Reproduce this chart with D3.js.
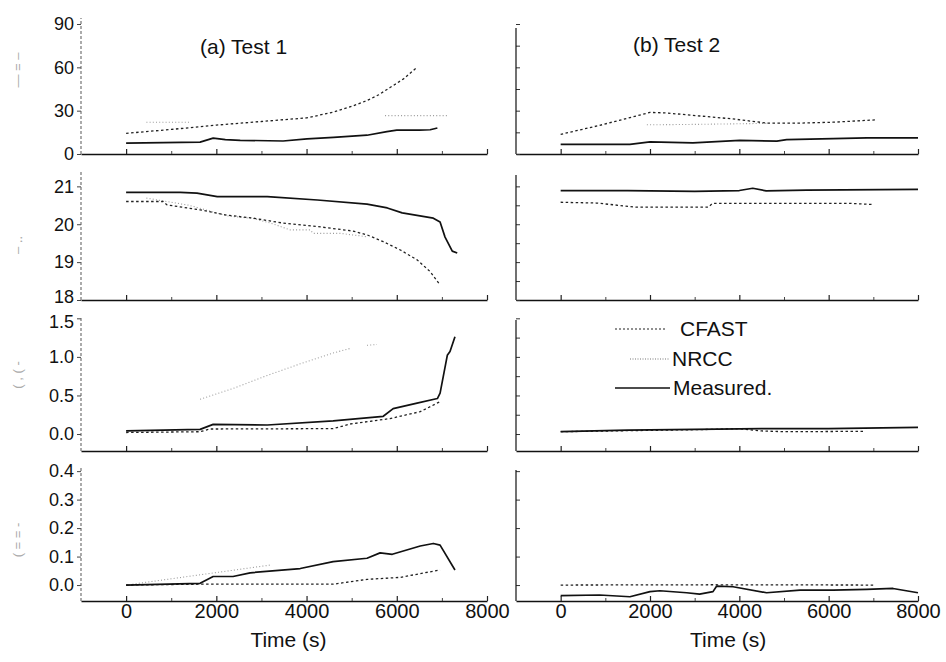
<!DOCTYPE html>
<html><head><meta charset="utf-8">
<script src="https://cdn.jsdelivr.net/npm/d3@7"></script>
<style>
body{margin:0;background:#fff;}
svg{display:block;font-family:"Liberation Sans",Arial,sans-serif;}
</style></head>
<body><svg id="chart" width="946" height="662"></svg>
<script>
// ---------- DATA (time s, value) ----------
const xTickValues = [0, 2000, 4000, 6000, 8000];
const panelTitles = ["(a) Test 1", "(b) Test 2"];
const legendLabels = ["CFAST", "NRCC", "Measured."];
const xAxisTitle = "Time (s)";

const p1Ticks = [0, 30, 60, 90];
const p2Ticks = [18, 19, 20, 21];
const p3Ticks = [0.0, 0.5, 1.0, 1.5];
const p4Ticks = [0.0, 0.1, 0.2, 0.3, 0.4];

// Test 1, panel 1
const t1p1Measured = [[0,7.5],[1640,8.2],[1930,11],[2200,10],[2530,9.5],[3480,9],[4010,10.5],[4600,11.5],[5340,13],[5780,15.5],[6000,16.5],[6500,16.5],[6740,16.8],[6900,18]];
const t1p1Cfast = [[0,14.3],[1000,17],[2000,20],[3000,22.5],[4000,25],[4600,29],[5000,33],[5340,37],[5600,41],[5850,46],[6150,52],[6450,60]];
const t1p1NrccA = [[450,22],[1420,22]];
const t1p1NrccB = [[5740,26.6],[7140,26.6]];
// Test 1, panel 2
const t1p2Measured = [[0,20.84],[1200,20.84],[1570,20.82],[2020,20.73],[3130,20.73],[4240,20.64],[5340,20.53],[5790,20.43],[6120,20.3],[6810,20.16],[6960,20.06],[7070,19.66],[7230,19.29],[7340,19.24]];
const t1p2Cfast = [[0,20.6],[820,20.6],[910,20.51],[1640,20.38],[2240,20.24],[2820,20.16],[3480,20.03],[4240,19.94],[5030,19.82],[5340,19.72],[5700,19.54],[6080,19.32],[6450,19.06],[6740,18.75],[6960,18.4]];
const t1p2Nrcc = [[450,20.69],[900,20.6],[1400,20.5],[2240,20.22],[2820,20.15],[3200,20.03],[3640,19.85],[4080,19.85],[4150,19.76],[4740,19.76],[5340,19.67]];
// Test 1, panel 3
const t1p3Measured = [[0,0.04],[1640,0.06],[1930,0.125],[3130,0.117],[4590,0.17],[5700,0.23],[5920,0.33],[6450,0.4],[6900,0.46],[6960,0.53],[7120,1.02],[7180,1.07],[7290,1.26]];
const t1p3Cfast = [[0,0.02],[1640,0.03],[1860,0.065],[4590,0.07],[4970,0.13],[5850,0.2],[6520,0.29],[6960,0.42]];
const t1p3NrccA = [[1640,0.45],[2370,0.59],[3130,0.76],[3860,0.91],[4590,1.05],[4970,1.11]];
const t1p3NrccB = [[5340,1.15],[5560,1.16]];
// Test 1, panel 4
const t1p4Measured = [[0,0.0],[1640,0.006],[1930,0.03],[2370,0.03],[2750,0.043],[3860,0.058],[4590,0.082],[5340,0.094],[5630,0.113],[5900,0.108],[6520,0.137],[6810,0.146],[6960,0.14],[7290,0.053]];
const t1p4Cfast = [[0,0.0],[1640,0.003],[4590,0.003],[5340,0.02],[6080,0.027],[6960,0.053]];
const t1p4Nrcc = [[0,0.0],[3190,0.07]];

// Test 2, panel 1
const t2p1Measured = [[0,6.6],[1550,6.6],[2000,8.4],[2960,7.7],[4010,9.5],[4840,8.9],[5060,10],[6100,10.7],[6860,11.1],[8000,11.1]];
const t2p1Cfast = [[0,13.6],[870,19.8],[2000,28.8],[2370,28.4],[3850,24.3],[4620,21.4],[5360,21.4],[6100,22],[7040,23.6]];
const t2p1Nrcc = [[1930,20.2],[3000,20.5],[4620,21.2]];
// Test 2, panel 2
const t2p2Measured = [[0,20.89],[1500,20.89],[3000,20.87],[4000,20.89],[4300,20.95],[4600,20.88],[5500,20.9],[8000,20.92]];
const t2p2Cfast = [[0,20.58],[800,20.56],[1700,20.45],[3300,20.45],[3400,20.55],[5000,20.55],[6500,20.55],[7000,20.52]];
// Test 2, panel 3
const t2p3Measured = [[0,0.03],[1500,0.05],[3000,0.06],[4500,0.07],[6000,0.07],[8000,0.085]];
const t2p3Cfast = [[0,0.03],[3400,0.06],[4000,0.07],[4500,0.04],[5000,0.03],[6800,0.035]];
// Test 2, panel 4
const t2p4Measured = [[0,-0.037],[870,-0.035],[1550,-0.041],[2000,-0.023],[2220,-0.02],[2820,-0.027],[3110,-0.032],[3410,-0.023],[3490,-0.004],[3860,-0.006],[4610,-0.027],[5360,-0.018],[6100,-0.018],[6850,-0.015],[7440,-0.012],[8000,-0.027]];
const t2p4Cfast = [[0,0.0],[3400,0.001],[7000,0.0]];

// faint, illegible remnants of the y-axis titles in the scan
const yTitleRemnants = ["— = ‒", "‒  ‥", "( , ( ‐", "( = = ‐"];

// ---------- LAYOUT ----------
const svg = d3.select("#chart");
svg.append("rect").attr("width",946).attr("height",662).attr("fill","#fff");

const cols = [
  {x: d3.scaleLinear().domain([-1000, 8000]).range([81, 487]), left: true},
  {x: d3.scaleLinear().domain([-1000, 8000]).range([516, 918]), left: false}
];
const rows = [
  {domain:[0, 90],        range:[154, 24],  ticks:p1Ticks, minor:[0,15,30,45,60,75,90], fmt: d3.format("d"), topL:18,  topR:28},
  {domain:[18, 21.3],     range:[300, 175], ticks:p2Ticks, minor:[18,18.5,19,19.5,20,20.5,21], fmt: d3.format("d"), topL:172, topR:175},
  {domain:[-0.22, 1.53],  range:[451, 316], ticks:p3Ticks, minor:[0,0.25,0.5,0.75,1,1.25,1.5], fmt: d3.format(".1f"), topL:316, topR:320},
  {domain:[-0.056, 0.418],range:[601, 466], ticks:p4Ticks, minor:[0,0.1,0.2,0.3,0.4], fmt: d3.format(".1f"), topL:466, topR:470}
];
rows.forEach(r => r.y = d3.scaleLinear().domain(r.domain).range(r.range));

const seriesByPanel = [
  [
    {m:t1p1Measured, c:t1p1Cfast, n:[t1p1NrccA, t1p1NrccB]},
    {m:t1p2Measured, c:t1p2Cfast, n:[t1p2Nrcc]},
    {m:t1p3Measured, c:t1p3Cfast, n:[t1p3NrccA, t1p3NrccB]},
    {m:t1p4Measured, c:t1p4Cfast, n:[t1p4Nrcc]}
  ],
  [
    {m:t2p1Measured, c:t2p1Cfast, n:[t2p1Nrcc]},
    {m:t2p2Measured, c:t2p2Cfast, n:[]},
    {m:t2p3Measured, c:t2p3Cfast, n:[]},
    {m:t2p4Measured, c:t2p4Cfast, n:[]}
  ]
];

const styles = {
  m: {stroke:"#111", width:1.7, dash:null},
  c: {stroke:"#222", width:1.3, dash:"2.5,2.5"},
  n: {stroke:"#9a9a9a", width:1.1, dash:"1,2.2"}
};

cols.forEach((col, ci) => {
  rows.forEach((row, ri) => {
    const g = svg.append("g");
    const x = col.x, y = row.y;
    const bottom = row.range[0];
    const last = ri === rows.length - 1;

    const xa = d3.axisBottom(x).tickValues(xTickValues).tickSizeInner(-5).tickSizeOuter(0).tickPadding(3)
      .tickFormat(last ? d3.format("d") : "");
    const xg = g.append("g").attr("transform", `translate(0,${bottom})`).call(xa);
    xg.select(".domain").attr("stroke","#111").attr("stroke-width",1.6);
    xg.selectAll(".tick line").attr("stroke","#222").attr("stroke-width",1.2);
    xg.selectAll("text").attr("font-size",20).attr("fill","#111").attr("font-family","Liberation Sans, Arial, sans-serif");
    g.append("g").attr("transform", `translate(0,${bottom})`)
      .call(d3.axisBottom(x).tickValues([1000,3000,5000,7000]).tickSizeInner(-3).tickSizeOuter(0).tickFormat(""))
      .call(s => s.select(".domain").remove())
      .selectAll("line").attr("stroke","#444");

    const yTop = col.left ? row.topL : row.topR;
    if (col.left) {
      const ya = d3.axisLeft(y).tickValues(row.ticks).tickSizeInner(4).tickSizeOuter(0).tickPadding(3).tickFormat(row.fmt);
      const yg = g.append("g").attr("transform", `translate(${x.range()[0]},0)`).call(ya);
      yg.select(".domain").remove();
      yg.selectAll(".tick line").attr("stroke","#444");
      yg.selectAll("text").attr("font-size",18).attr("fill","#111").attr("font-family","Liberation Sans, Arial, sans-serif");
      // keep the crowded labels at panel joins apart, as in the scan
      if (ri === 1) yg.selectAll(".tick").filter(d => d === 18).select("text").attr("y", -3);
      if (ri === 2) yg.selectAll(".tick").filter(d => d === 1.5).select("text").attr("y", 3);
      g.append("line").attr("x1",x.range()[0]).attr("x2",x.range()[0]).attr("y1",bottom).attr("y2",yTop)
        .attr("stroke","#666").attr("stroke-width",1.1).attr("stroke-dasharray","3,2");
    } else {
      const ya = d3.axisRight(y).tickValues(row.minor).tickSizeInner(4).tickSizeOuter(0).tickFormat("");
      const yg = g.append("g").attr("transform", `translate(${x.range()[0]},0)`).call(ya);
      yg.select(".domain").remove();
      yg.selectAll(".tick line").attr("stroke","#333");
      g.append("line").attr("x1",x.range()[0]).attr("x2",x.range()[0]).attr("y1",bottom).attr("y2",yTop)
        .attr("stroke","#111").attr("stroke-width",1.2);
    }

    const line = d3.line().x(d => x(d[0])).y(d => y(d[1]));
    const s = seriesByPanel[ci][ri];
    const draw = (data, st) => g.append("path").attr("d", line(data)).attr("fill","none")
      .attr("stroke", st.stroke).attr("stroke-width", st.width)
      .attr("stroke-dasharray", st.dash).attr("stroke-linejoin","round");
    s.n.forEach(seg => draw(seg, styles.n));
    draw(s.c, styles.c);
    draw(s.m, styles.m);
  });
});

svg.append("text").attr("x",200).attr("y",54).attr("font-size",21).attr("fill","#111").text(panelTitles[0]);
svg.append("text").attr("x",633).attr("y",52).attr("font-size",21).attr("fill","#111").text(panelTitles[1]);

cols.forEach((col, ci) => {
  svg.append("text").attr("x", col.x(ci === 0 ? 3600 : 3750)).attr("y", 647)
    .attr("text-anchor","middle").attr("font-size",21).attr("fill","#111").text(xAxisTitle);
});

const remnantY = [70, 245, 375, 540];
yTitleRemnants.forEach((t, i) => {
  svg.append("text").attr("transform", `translate(22,${remnantY[i]}) rotate(-90)`)
    .attr("text-anchor","middle").attr("font-size",13).attr("fill","#aaa").text(t);
});

const legendStyles = [styles.c, styles.n, styles.m];
const legendPos = [{x1:615,x2:667,y:329,tx:680},{x1:630,x2:670,y:359,tx:672},{x1:615,x2:670,y:388,tx:673}];
legendLabels.forEach((lab, i) => {
  const p = legendPos[i], st = legendStyles[i];
  svg.append("line").attr("x1",p.x1).attr("x2",p.x2).attr("y1",p.y).attr("y2",p.y)
    .attr("stroke", i===1 ? "#777" : st.stroke).attr("stroke-width", i===2 ? 1.4 : 1.1)
    .attr("stroke-dasharray", i===0 ? "2,2" : (i===1 ? "1,1.5" : null));
  svg.append("text").attr("x",p.tx).attr("y",p.y+7).attr("font-size",21).attr("fill","#111").text(lab);
});
</script></body></html>
